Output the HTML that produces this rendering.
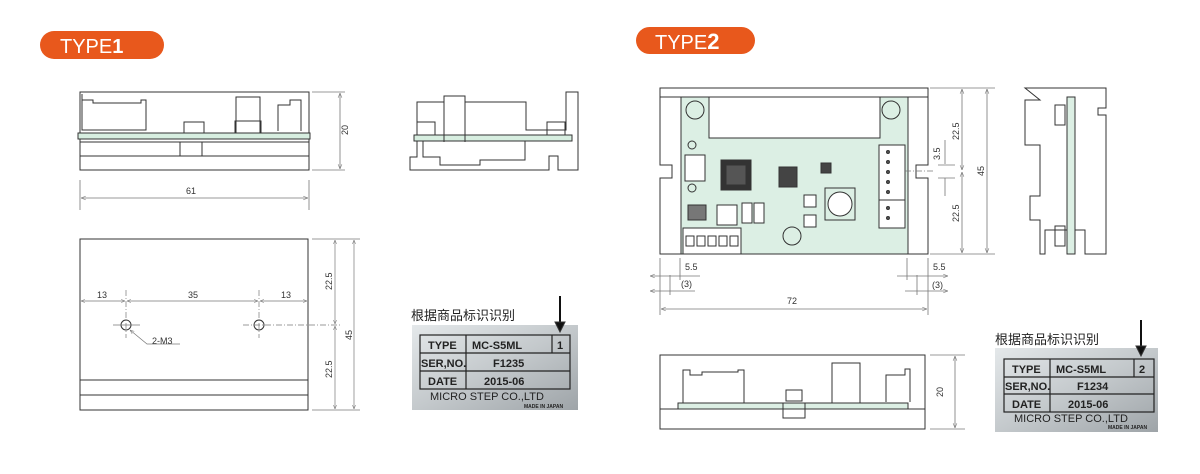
<!DOCTYPE html>
<html><head><meta charset="utf-8"><style>
body{margin:0;background:#fff;width:1200px;height:474px;overflow:hidden}
svg{display:block}
text{font-family:"Liberation Sans","Noto Sans CJK SC",sans-serif}
</style></head><body>
<svg width="1200" height="474" viewBox="0 0 1200 474" xmlns="http://www.w3.org/2000/svg">
<defs>
<linearGradient id="plate" x1="0" y1="0" x2="1" y2="1">
<stop offset="0" stop-color="#e4e8ea"/><stop offset="0.5" stop-color="#c4c9cc"/><stop offset="1" stop-color="#9ea4a8"/>
</linearGradient>
<marker id="ar" viewBox="0 0 10 10" refX="10" refY="5" markerWidth="6" markerHeight="6" orient="auto-start-reverse"><path d="M0,1 L10,5 L0,9" fill="none" stroke="#777" stroke-width="1.2"/></marker>
</defs>
<g stroke="#333" stroke-width="1" fill="none">
<!-- TYPE1 pill -->
<rect x="40" y="31" width="124" height="28" rx="14" fill="#e8581c" stroke="none"/>
<!-- TYPE1 side view -->
<rect x="80" y="92" width="229" height="78"/>
<path d="M82,94 V130 H146 V100 H141 V103 H93 V100 H82" />
<rect x="78" y="133" width="232" height="6" fill="#d7eee0"/>
<line x1="80" y1="142" x2="309" y2="142"/>
<line x1="80" y1="156" x2="309" y2="156"/>
<rect x="180" y="142" width="22" height="14"/>
<rect x="184" y="122" width="20" height="11"/>
<rect x="236" y="97" width="24" height="36"/>
<rect x="235" y="121" width="26" height="12"/>
<path d="M278,131 V105 H290 V100 H301 V131"/>
<!-- dims -->
<g stroke="#777" stroke-width="0.8">
<line x1="312" y1="92" x2="345" y2="92"/><line x1="312" y1="170" x2="345" y2="170"/>
<line x1="340" y1="93" x2="340" y2="169" marker-start="url(#ar)" marker-end="url(#ar)"/>
<line x1="80" y1="180" x2="80" y2="210"/><line x1="309" y1="180" x2="309" y2="210"/>
<line x1="81" y1="198" x2="308" y2="198" marker-start="url(#ar)" marker-end="url(#ar)"/>
</g>
<!-- TYPE1 end view -->
<path d="M410,170 V157 H417 V102 H444 V96 H465 V102 H526 V130 H566 V92 H578 V170 H558 V156 H549 V170 Z"/>
<rect x="414" y="135" width="158" height="6" fill="#d7eee0"/>
<line x1="444" y1="102" x2="444" y2="142"/><line x1="465" y1="102" x2="465" y2="142"/>
<rect x="417" y="122" width="18" height="13"/><rect x="547" y="122" width="18" height="13"/>
<path d="M423,141 V157 H440 V165 H480 V160 H525 V141"/>
<!-- TYPE1 front view -->
<rect x="80" y="239" width="228" height="171"/>
<line x1="80" y1="380" x2="308" y2="380"/><line x1="80" y1="395" x2="308" y2="395"/>
<circle cx="126" cy="325" r="5"/><circle cx="259" cy="325" r="5"/>
<g stroke="#777" stroke-width="0.7">
<line x1="126" y1="290" x2="126" y2="338" stroke-dasharray="6,2,1,2"/>
<line x1="259" y1="290" x2="259" y2="338" stroke-dasharray="6,2,1,2"/>
<line x1="113" y1="325" x2="140" y2="325"/>
<line x1="243" y1="325" x2="340" y2="325" stroke-dasharray="6,2,1,2"/>
<line x1="81" y1="301" x2="125" y2="301" marker-start="url(#ar)" marker-end="url(#ar)"/>
<line x1="127" y1="301" x2="258" y2="301" marker-start="url(#ar)" marker-end="url(#ar)"/>
<line x1="260" y1="301" x2="307" y2="301" marker-start="url(#ar)" marker-end="url(#ar)"/>
<line x1="312" y1="239" x2="360" y2="239"/><line x1="312" y1="410" x2="360" y2="410"/>
<line x1="335" y1="240" x2="335" y2="324" marker-start="url(#ar)" marker-end="url(#ar)"/>
<line x1="335" y1="326" x2="335" y2="409" marker-start="url(#ar)" marker-end="url(#ar)"/>
<line x1="354" y1="240" x2="354" y2="409" marker-start="url(#ar)" marker-end="url(#ar)"/>
<path d="M130,330 L147,344 H180" marker-start="url(#ar)"/>
</g>
<!-- TYPE2 pill -->
<rect x="636" y="27" width="119" height="27" rx="13.5" fill="#e8581c" stroke="none"/>
<!-- TYPE2 top view -->
<path d="M660,88 H928 V165 H916 V178 H928 V254 H660 V178 H672 V165 H660 Z"/>
<line x1="660" y1="97" x2="928" y2="97"/>
<rect x="681" y="97" width="227" height="157" fill="#dcefe4"/>
<rect x="709" y="97" width="171" height="41" fill="#fff"/>
<circle cx="695" cy="110" r="9"/><circle cx="891" cy="110" r="9"/><circle cx="792" cy="236" r="9"/>
<circle cx="692" cy="145" r="4"/><circle cx="692" cy="188" r="4"/>
<rect x="685" y="155" width="20" height="26" fill="#fff"/>
<rect x="721" y="160" width="30" height="30" fill="#333"/><rect x="726" y="165" width="20" height="20" fill="#555"/>
<rect x="779" y="167" width="18" height="20" fill="#444"/>
<rect x="821" y="163" width="10" height="10" fill="#444"/>
<circle cx="840" cy="204" r="12" fill="#fff"/><rect x="825" y="188" width="30" height="32"/>
<rect x="688" y="205" width="18" height="15" fill="#777"/>
<rect x="717" y="205" width="20" height="20" fill="#fff"/><rect x="742" y="203" width="10" height="20" fill="#fff"/><rect x="754" y="203" width="10" height="20" fill="#fff"/>
<rect x="804" y="195" width="12" height="12" fill="#fff"/><rect x="804" y="215" width="12" height="12" fill="#fff"/>
<rect x="683" y="228" width="58" height="26" fill="#fff"/>
<g fill="#fff"><rect x="686" y="236" width="8" height="10"/><rect x="697" y="236" width="8" height="10"/><rect x="708" y="236" width="8" height="10"/><rect x="719" y="236" width="8" height="10"/><rect x="730" y="236" width="8" height="10"/></g>
<rect x="879" y="145" width="26" height="55" fill="#fff"/><rect x="879" y="200" width="26" height="28" fill="#fff"/>
<g fill="#555"><circle cx="888" cy="152" r="1.5"/><circle cx="888" cy="162" r="1.5"/><circle cx="888" cy="172" r="1.5"/><circle cx="888" cy="182" r="1.5"/><circle cx="888" cy="192" r="1.5"/><circle cx="888" cy="208" r="1.5"/><circle cx="888" cy="218" r="1.5"/></g>
<!-- dims type2 -->
<g stroke="#777" stroke-width="0.8">
<line x1="930" y1="88" x2="995" y2="88"/><line x1="930" y1="254" x2="995" y2="254"/>
<line x1="962" y1="89" x2="962" y2="170" marker-start="url(#ar)" marker-end="url(#ar)"/>
<line x1="962" y1="172" x2="962" y2="253" marker-start="url(#ar)" marker-end="url(#ar)"/>
<line x1="987" y1="89" x2="987" y2="253" marker-start="url(#ar)" marker-end="url(#ar)"/>
<line x1="905" y1="171" x2="935" y2="171" stroke-dasharray="6,2,1,2"/>
<line x1="945" y1="140" x2="945" y2="164"/><line x1="945" y1="178" x2="945" y2="196"/>
<line x1="938" y1="165" x2="955" y2="165"/><line x1="938" y1="178" x2="955" y2="178"/>
<line x1="660" y1="258" x2="660" y2="315"/><line x1="680" y1="258" x2="680" y2="280"/><line x1="670" y1="275" x2="670" y2="295"/>
<line x1="650" y1="276" x2="700" y2="276" marker-start="url(#ar)"/>
<line x1="650" y1="291" x2="695" y2="291" marker-start="url(#ar)"/>
<line x1="928" y1="258" x2="928" y2="315"/><line x1="907" y1="258" x2="907" y2="280"/><line x1="917" y1="275" x2="917" y2="295"/>
<line x1="897" y1="276" x2="948" y2="276" marker-end="url(#ar)"/>
<line x1="905" y1="291" x2="948" y2="291" marker-end="url(#ar)"/>
<line x1="661" y1="309" x2="927" y2="309" marker-start="url(#ar)" marker-end="url(#ar)"/>
</g>
<!-- TYPE2 side view -->
<path d="M1025,88 H1106 V108 H1098 V115 H1106 V254 H1085 V230 H1045 V254 H1040 V220 H1030 V196 H1040 V145 H1025 V100 H1040 Z"/>
<rect x="1067" y="97" width="8" height="157" fill="#dcefe4"/>
<rect x="1055" y="105" width="10" height="20"/><rect x="1055" y="226" width="10" height="20"/>
<!-- TYPE2 bottom view -->
<rect x="660" y="355" width="265" height="74"/>
<line x1="660" y1="409" x2="925" y2="409"/>
<rect x="678" y="403" width="230" height="6" fill="#dcefe4"/>
<path d="M683,403 V370 H690 V375 H702 V372 H738 V370 H744 V403"/>
<rect x="783" y="403" width="22" height="15"/>
<rect x="786" y="390" width="16" height="11"/>
<rect x="832" y="363" width="28" height="40"/>
<path d="M886,402 V375 H905 V369 H910 V402"/>
<g stroke="#777" stroke-width="0.8">
<line x1="930" y1="355" x2="965" y2="355"/><line x1="930" y1="429" x2="965" y2="429"/>
<line x1="955" y1="356" x2="955" y2="428" marker-start="url(#ar)" marker-end="url(#ar)"/>
</g>
<!-- labels -->
<rect x="412" y="325" width="166" height="85" fill="url(#plate)" stroke="none"/>
<g stroke="#222" stroke-width="1.2">
<rect x="420" y="335" width="150" height="54"/>
<line x1="420" y1="353" x2="570" y2="353"/><line x1="420" y1="371" x2="570" y2="371"/>
<line x1="466" y1="335" x2="466" y2="389"/><line x1="552" y1="335" x2="552" y2="353"/>
</g>
<rect x="995" y="348" width="163" height="84" fill="url(#plate)" stroke="none"/>
<g stroke="#222" stroke-width="1.2">
<rect x="1004" y="359" width="150" height="53"/>
<line x1="1004" y1="377" x2="1154" y2="377"/><line x1="1004" y1="394" x2="1154" y2="394"/>
<line x1="1050" y1="359" x2="1050" y2="412"/><line x1="1134" y1="359" x2="1134" y2="377"/>
</g>
<line x1="560" y1="296" x2="560" y2="326" stroke="#111" stroke-width="2"/>
<path d="M555,322 L560,332 L565,322 Z" fill="#111"/>
<line x1="1141" y1="320" x2="1141" y2="349" stroke="#111" stroke-width="2"/>
<path d="M1136,346 L1141,356 L1146,346 Z" fill="#111"/>
</g>
<g fill="#fff" font-size="20"><text x="60" y="53">TYPE<tspan font-weight="bold">1</tspan></text><text x="655" y="49">TYPE<tspan font-weight="bold" font-size="22">2</tspan></text></g>
<g fill="#333" font-size="9">
<text x="186" y="194">61</text>
<text transform="translate(348,135) rotate(-90)">20</text>
<text x="97" y="298">13</text><text x="188" y="298">35</text><text x="281" y="298">13</text>
<text x="152" y="344">2-M3</text>
<text transform="translate(332,290) rotate(-90)">22.5</text>
<text transform="translate(332,378) rotate(-90)">22.5</text>
<text transform="translate(352,340) rotate(-90)">45</text>
<text transform="translate(959,140) rotate(-90)">22.5</text>
<text transform="translate(959,222) rotate(-90)">22.5</text>
<text transform="translate(984,176) rotate(-90)">45</text>
<text transform="translate(940,160) rotate(-90)">3.5</text>
<text x="685" y="270">5.5</text><text x="681" y="287">(3)</text>
<text x="933" y="270">5.5</text><text x="932" y="288">(3)</text>
<text x="787" y="304">72</text>
<text transform="translate(943,397) rotate(-90)">20</text>
</g>
<g fill="#222">
<text x="411" y="320" font-size="13">根据商品标识识别</text>
<text x="995" y="344" font-size="13">根据商品标识识别</text>
<g font-weight="bold" font-size="11">
<text x="428" y="349">TYPE</text><text x="472" y="349">MC-S5ML</text><text x="557" y="349">1</text>
<text x="421" y="367">SER,NO.</text><text x="493" y="367">F1235</text>
<text x="428" y="385">DATE</text><text x="484" y="385">2015-06</text>
<text x="1012" y="373">TYPE</text><text x="1056" y="373">MC-S5ML</text><text x="1139" y="373">2</text>
<text x="1005" y="390">SER,NO.</text><text x="1077" y="390">F1234</text>
<text x="1012" y="408">DATE</text><text x="1068" y="408">2015-06</text>
</g>
<text x="430" y="400" font-size="11">MICRO STEP CO.,LTD</text>
<text x="1014" y="422" font-size="11">MICRO STEP CO.,LTD</text>
<text x="524" y="408" font-size="5" font-weight="bold">MADE IN JAPAN</text>
<text x="1108" y="429" font-size="5" font-weight="bold">MADE IN JAPAN</text>
</g>
</svg>
</body></html>
